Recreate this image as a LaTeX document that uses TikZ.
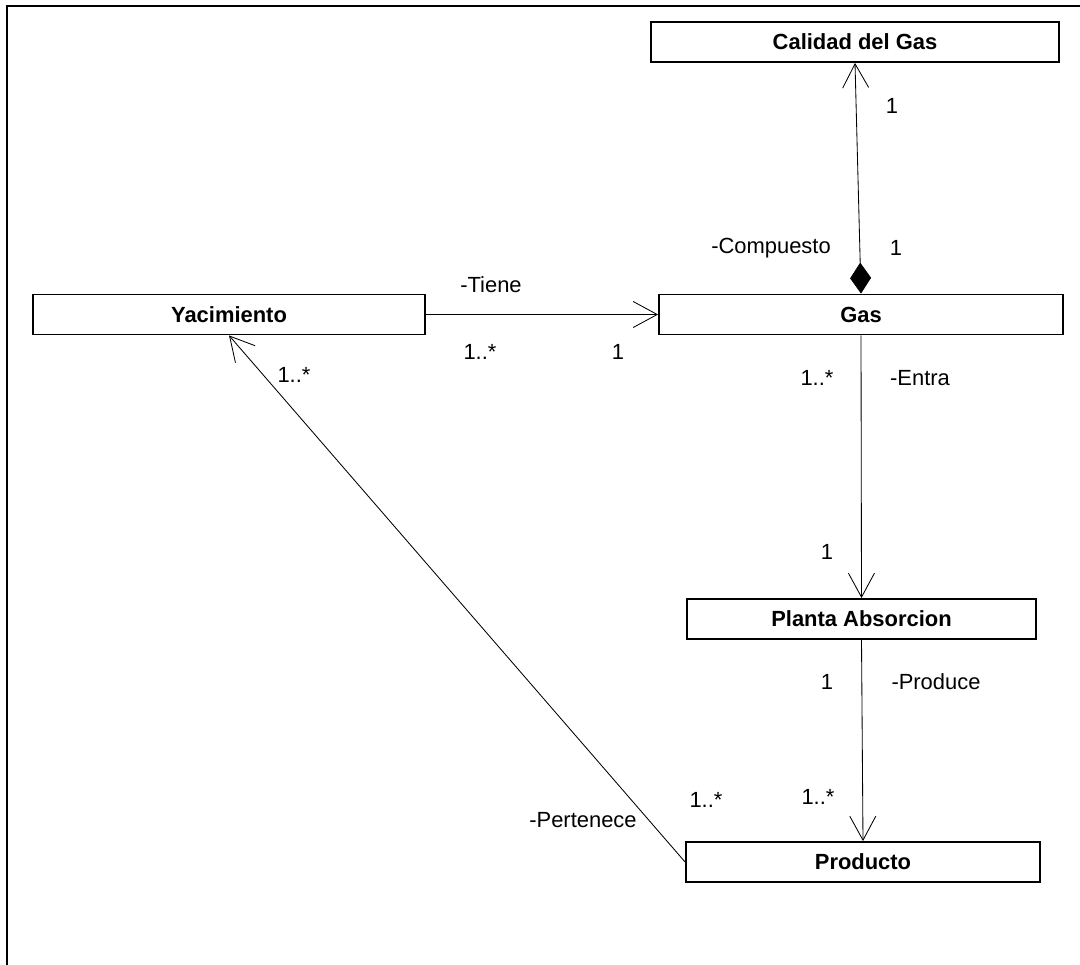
\documentclass[tikz,border=0pt]{standalone}
\usepackage{fontspec}
\setmainfont{Liberation Sans}
\usetikzlibrary{arrows.meta}
\newcommand{\letra}{\fontsize{15.6}{18}\selectfont}
\tikzset{
	x=0.25mm,
	y=-0.25mm,
	>={Straight Barb[length=6mm,width=6.5mm]},
	clase/.style={
		rectangle,
		draw=black,
		line width=1.3pt,
		minimum height=10mm,
		font=\letra\bfseries,
		text centered
	},
	mult/.style={
		inner sep=0pt,
		font=\letra
	},
	compos/.style={
		{Diamond[length=7.75mm,width=5.25mm]}->
	}
}

\begin{document}
\begin{tikzpicture}[semithick]
		\useasboundingbox (0,0) rectangle (1080,965);
		\draw [line width=1.3pt] (1080,6) -| (7,965);

		\node [clase, minimum width=102mm] (calidad) at (855,42) {Calidad del Gas};
		\node [clase, minimum width=101mm] (gas) at (861,314.5) {Gas};
		\node [clase, minimum width=98mm] (yacimiento) at (229,314.5) {Yacimiento};
		\node [clase, minimum width=87.25mm] (planta) at (861.5,619) {Planta Absorcion};
		\node [clase, minimum width=88.5mm] (producto) at (863,862) {Producto};

		\draw [compos] (gas.north) -- (calidad.south);
		\draw [->] (yacimiento.east) -- (gas.west);
		\draw [->] (gas.south) -- (planta.north);
		\draw [->] (planta.south) -- (producto.north);
		\draw [->] (producto.west) -- (yacimiento.south);

		% multiplicidades y roles
		\node [mult] (m-cal) at (892,106) {1};
		\node [mult] (rol-comp) at (771,248) {-Compuesto};
		\node [mult] (m-comp) at (896,248) {1};
		\node [mult] (rol-tiene) at (491,285) {-Tiene};
		\node [mult] (m-tiene-a) at (480,352) {1..*};
		\node [mult] (m-tiene-b) at (618,352) {1};
		\node [mult] (m-yac) at (294,375) {1..*};
		\node [mult] (m-entra-a) at (817,378) {1..*};
		\node [mult] (rol-entra) at (920,378) {-Entra};
		\node [mult] (m-entra-b) at (827,552) {1};
		\node [mult] (m-prod-a) at (827,682) {1};
		\node [mult] (rol-produce) at (936,682) {-Produce};
		\node [mult] (m-pert) at (706,800) {1..*};
		\node [mult] (m-prod-b) at (818,797) {1..*};
		\node [mult] (rol-pert) at (583,820) {-Pertenece};
	\end{tikzpicture}
\end{document}
